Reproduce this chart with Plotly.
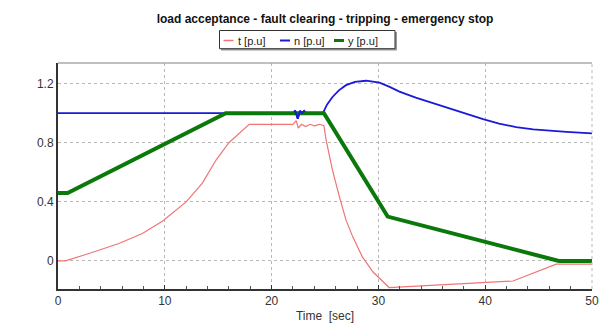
import plotly.graph_objects as go

# ---- data ----
t_time = [0, 0.7, 2.9, 5.7, 7.9, 9.8, 12.0, 13.5, 14.8, 16.0, 17.9, 22.0, 22.3, 22.5, 22.8, 23.2, 23.6, 24.0, 24.5, 24.9,
          25.1, 25.7, 26.35, 26.97, 27.6, 28.5, 29.5, 30.4, 31.0, 42.6, 46.65, 50]
t_vals = [0, 0, 0.05, 0.118, 0.186, 0.27, 0.40, 0.525, 0.683, 0.80, 0.925, 0.925, 0.95, 0.9, 0.925, 0.91, 0.925, 0.915, 0.925, 0.915,
          0.82, 0.615, 0.434, 0.276, 0.163, 0.027, -0.075, -0.142, -0.18, -0.136, -0.022, -0.022]

n_time = [0, 22.0, 22.2, 22.45, 22.65, 22.85, 23.05, 23.25, 24.8, 25.2, 25.7, 26.3, 26.97, 27.8, 28.85, 30.1, 31.0, 31.97,
          33.5, 35.1, 36.6, 38.2, 39.8, 41.3, 42.9, 44.5, 46.0, 47.6, 50]
n_vals = [1.0, 1.0, 1.018, 0.962, 1.016, 1.0, 1.016, 1.0, 1.0, 1.06, 1.11, 1.155, 1.19, 1.212, 1.22, 1.207, 1.18, 1.146,
          1.105, 1.067, 1.031, 0.995, 0.96, 0.93, 0.906, 0.89, 0.88, 0.874, 0.864]

y_time = [0, 0.9, 15.7, 24.9, 30.87, 46.9, 50]
y_vals = [0.46, 0.46, 1.0, 1.0, 0.30, 0.0, 0.0]

series_names = ["t [p.u]", "n [p.u]", "y [p.u]"]
series_colors = ["#f07474", "#1a1ad8", "#0a780a"]

x_ticks = [0, 10, 20, 30, 40, 50]
y_ticks = [0, 0.4, 0.8, 1.2]
y_tick_labels = ["0", "0.4", "0.8", "1.2"]

FONT = "Liberation Sans, Arial, sans-serif"
W, H = 607, 326
ML, MR, MT, MB = 58, 15, 63, 37


def px(x):
    return (x - ML) / (W - ML - MR)


def py(y):
    return (H - MB - y) / (H - MT - MB)


fig = go.Figure()
fig.add_trace(go.Scatter(x=t_time, y=t_vals, mode="lines", name=series_names[0],
                         line=dict(color=series_colors[0], width=1.2)))
fig.add_trace(go.Scatter(x=n_time, y=n_vals, mode="lines", name=series_names[1],
                         line=dict(color=series_colors[1], width=1.8)))
fig.add_trace(go.Scatter(x=y_time, y=y_vals, mode="lines", name=series_names[2],
                         line=dict(color=series_colors[2], width=4)))
# the small disturbance of n stays visible above the thick y line
fig.add_trace(go.Scatter(x=n_time[2:7], y=n_vals[2:7], mode="lines", showlegend=False, hoverinfo="skip",
                         line=dict(color=series_colors[1], width=1.8)))

# custom compact legend (box, shadow, short line keys, labels)
shapes = [
    dict(type="line", xref="paper", yref="paper", x0=0, x1=1, y0=1, y1=1,
         line=dict(color="#aaaaaa", width=1.5)),
    dict(type="line", xref="paper", yref="paper", x0=1, x1=1, y0=0, y1=1,
         line=dict(color="#bbbbbb", width=1, dash="dot")),
    dict(type="rect", xref="paper", yref="paper", x0=px(221), x1=px(397), y0=py(50.5), y1=py(32),
         fillcolor="#9a9a9a", line=dict(width=0)),
    dict(type="rect", xref="paper", yref="paper", x0=px(219.5), x1=px(395), y0=py(48.7), y1=py(30.5),
         fillcolor="white", line=dict(color="#333333", width=1)),
]
annotations = []
key_x = [223.5, 280, 334]
key_w = [1.5, 2, 3]
for kx, kw, name, col in zip(key_x, key_w, series_names, series_colors):
    shapes.append(dict(type="line", xref="paper", yref="paper", x0=px(kx), x1=px(kx + 10),
                       y0=py(40.5), y1=py(40.5), line=dict(color=col, width=kw)))
    annotations.append(dict(text=name, xref="paper", yref="paper", x=px(kx + 12), y=py(40.5),
                            xanchor="left", yanchor="middle", showarrow=False,
                            font=dict(family=FONT, size=11, color="#222222")))

fig.update_layout(
    width=W, height=H,
    margin=dict(l=ML, r=MR, t=MT, b=MB, autoexpand=False),
    paper_bgcolor="white", plot_bgcolor="white",
    font=dict(family=FONT, size=12, color="#333333"),
    title=dict(text="<b>load acceptance - fault clearing - tripping - emergency stop</b>",
               x=0.5, xref="paper", xanchor="center", y=1 - 19 / H, yref="container", yanchor="middle",
               font=dict(family=FONT, size=12, color="#111111")),
    showlegend=False,
    xaxis=dict(range=[0, 50], tickvals=x_ticks, showgrid=True, gridcolor="#b8b8b8", griddash="dot", gridwidth=1,
               zeroline=False, showline=True, linecolor="#333333", linewidth=2, automargin=False,
               ticks="inside", ticklen=4, tickcolor="#333333",
               minor=dict(dtick=2, ticks="inside", ticklen=3, tickcolor="#555555", showgrid=False),
               title=dict(text="Time  [sec]", font=dict(family=FONT, size=12, color="#333333"), standoff=4),
               tickfont=dict(family=FONT, size=12, color="#333333")),
    yaxis=dict(range=[-0.19, 1.34], tickvals=y_ticks, ticktext=y_tick_labels, showgrid=True,
               gridcolor="#b8b8b8", griddash="dot", gridwidth=1, automargin=False,
               zeroline=False, showline=True, linecolor="#333333", linewidth=2,
               ticks="", tickfont=dict(family=FONT, size=12, color="#333333")),
    shapes=shapes,
    annotations=annotations,
)

fig.write_html("out.html")
